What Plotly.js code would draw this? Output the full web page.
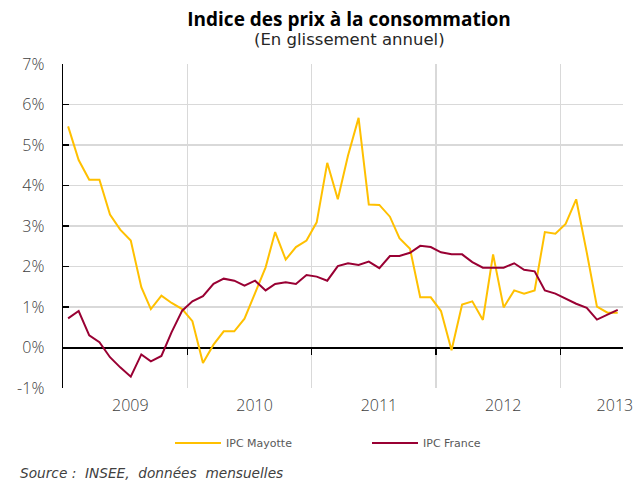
<!DOCTYPE html>
<html>
<head>
<meta charset="utf-8">
<script src="https://cdn.plot.ly/plotly-3.0.1.min.js"></script>
<style>html,body{margin:0;padding:0;background:#fff;}#chart{width:640px;height:484px;}</style>
</head>
<body>
<div id="chart"></div>
<script>
// Monthly categories (July 2008 .. December 2012)
var months = [
 '2008-07','2008-08','2008-09','2008-10','2008-11','2008-12',
 '2009-01','2009-02','2009-03','2009-04','2009-05','2009-06','2009-07','2009-08','2009-09','2009-10','2009-11','2009-12',
 '2010-01','2010-02','2010-03','2010-04','2010-05','2010-06','2010-07','2010-08','2010-09','2010-10','2010-11','2010-12',
 '2011-01','2011-02','2011-03','2011-04','2011-05','2011-06','2011-07','2011-08','2011-09','2011-10','2011-11','2011-12',
 '2012-01','2012-02','2012-03','2012-04','2012-05','2012-06','2012-07','2012-08','2012-09','2012-10','2012-11','2012-12'
];
// Year-on-year CPI change, %
var ipcMayotte = [5.46,4.63,4.14,4.14,3.28,2.91,2.64,1.49,0.95,1.28,1.10,0.95,
 0.65,-0.38,0.07,0.40,0.40,0.71,1.34,1.98,2.85,2.17,2.48,2.64,
 3.09,4.56,3.66,4.74,5.67,3.53,3.52,3.23,2.70,2.44,1.24,1.24,
 0.90,-0.07,1.06,1.14,0.68,2.30,0.99,1.41,1.33,1.41,2.85,2.81,
 3.05,3.66,2.35,1.01,0.86,0.86];
var ipcFrance = [0.72,0.90,0.30,0.13,-0.24,-0.49,-0.72,-0.17,-0.34,-0.21,0.38,0.91,
 1.14,1.27,1.57,1.70,1.65,1.53,1.65,1.41,1.57,1.61,1.57,1.79,
 1.75,1.65,2.01,2.08,2.04,2.12,1.96,2.26,2.26,2.34,2.51,2.48,
 2.35,2.30,2.30,2.11,1.97,1.97,1.97,2.08,1.92,1.88,1.41,1.33,
 1.20,1.08,0.98,0.69,0.81,0.93];
// Axis ticks
var yTickVals = [-1,0,1,2,3,4,5,6,7];
var yTickText = ['-1%','0%','1%','2%','3%','4%','5%','6%','7%'];
var xRange = ['2008-06-16','2012-12-16 12:00'];
var yearLabelPos = ['2008-12-16','2009-12-16','2010-12-16','2011-12-16','2012-11-08'];
var yearLabels = ['2009','2010','2011','2012','2013'];
var gridPos = ['2009-06-16','2010-06-16','2011-06-16','2012-06-16'];

var tickFont = {family:'Open Sans', size:16, color:'#404040', weight:300};

var traces = [
 {x:months, y:ipcMayotte, type:'scatter', mode:'lines', name:'IPC Mayotte',
  xaxis:'x', yaxis:'y', line:{color:'#FFC000', width:2}},
 {x:months, y:ipcFrance, type:'scatter', mode:'lines', name:'IPC France',
  xaxis:'x2', yaxis:'y', line:{color:'#990033', width:2}}
];

var layout = {
 width:640, height:484,
 margin:{l:63, r:17, t:64, b:96, pad:0},
 paper_bgcolor:'#ffffff', plot_bgcolor:'#ffffff',
 showlegend:true,
 title:{text:'<b>Indice des prix à la consommation</b>', x:349/640, xanchor:'center', xref:'container',
        y:1-19/484, yanchor:'middle', yref:'container',
        font:{family:'Open Sans', size:19, color:'#000000'}},
 xaxis:{type:'date', range:xRange, tickmode:'array', tickvals:yearLabelPos, ticktext:yearLabels,
        ticks:'', showgrid:false, showline:false, zeroline:false, ticklabelshift:5, ticklabelstandoff:6,
        ticklabeloverflow:'allow', tickfont:tickFont, fixedrange:true},
 xaxis2:{type:'date', range:xRange, overlaying:'x', anchor:'free', position:0.125, side:'bottom',
        tickmode:'array', tickvals:gridPos, showticklabels:false, ticks:'outside', ticklen:6, tickwidth:1.5,
        tickcolor:'#000000', showgrid:true, gridcolor:'#d9d9d9', gridwidth:1.5, showline:false, zeroline:false},
 yaxis:{range:[-1,7], tickmode:'array', tickvals:yTickVals, ticktext:yTickText,
        ticks:'inside', ticklen:6, tickwidth:1.5, tickcolor:'#000000',
        showline:true, linecolor:'#000000', linewidth:1.5,
        showgrid:true, gridcolor:'#d9d9d9', gridwidth:1.5,
        zeroline:true, zerolinecolor:'#000000', zerolinewidth:2,
        ticklabelstandoff:14, tickfont:tickFont},
 legend:{orientation:'h', x:(170-63)/560, xanchor:'left', y:(388-443)/324, yanchor:'middle',
        font:{family:'DejaVu Sans', size:11, color:'#595959'},
        itemwidth:46, entrywidth:136, entrywidthmode:'pixels', bgcolor:'rgba(0,0,0,0)'},
 annotations:[
  {text:'(En glissement annuel)', xref:'paper', yref:'paper', x:(349-63)/560, y:(388-39)/324,
   xanchor:'center', yanchor:'middle', showarrow:false,
   font:{family:'DejaVu Sans', size:16.5, color:'#262626'}},
  {text:'Source :  INSEE,  données  mensuelles', xref:'paper', yref:'paper', x:(18-63)/560, y:(388-473)/324,
   xanchor:'left', yanchor:'middle', showarrow:false,
   font:{family:'DejaVu Sans', size:13.7, color:'#404040', style:'italic'}}
 ]
};

Plotly.newPlot('chart', traces, layout, {displayModeBar:false, staticPlot:true});
</script>
</body>
</html>
